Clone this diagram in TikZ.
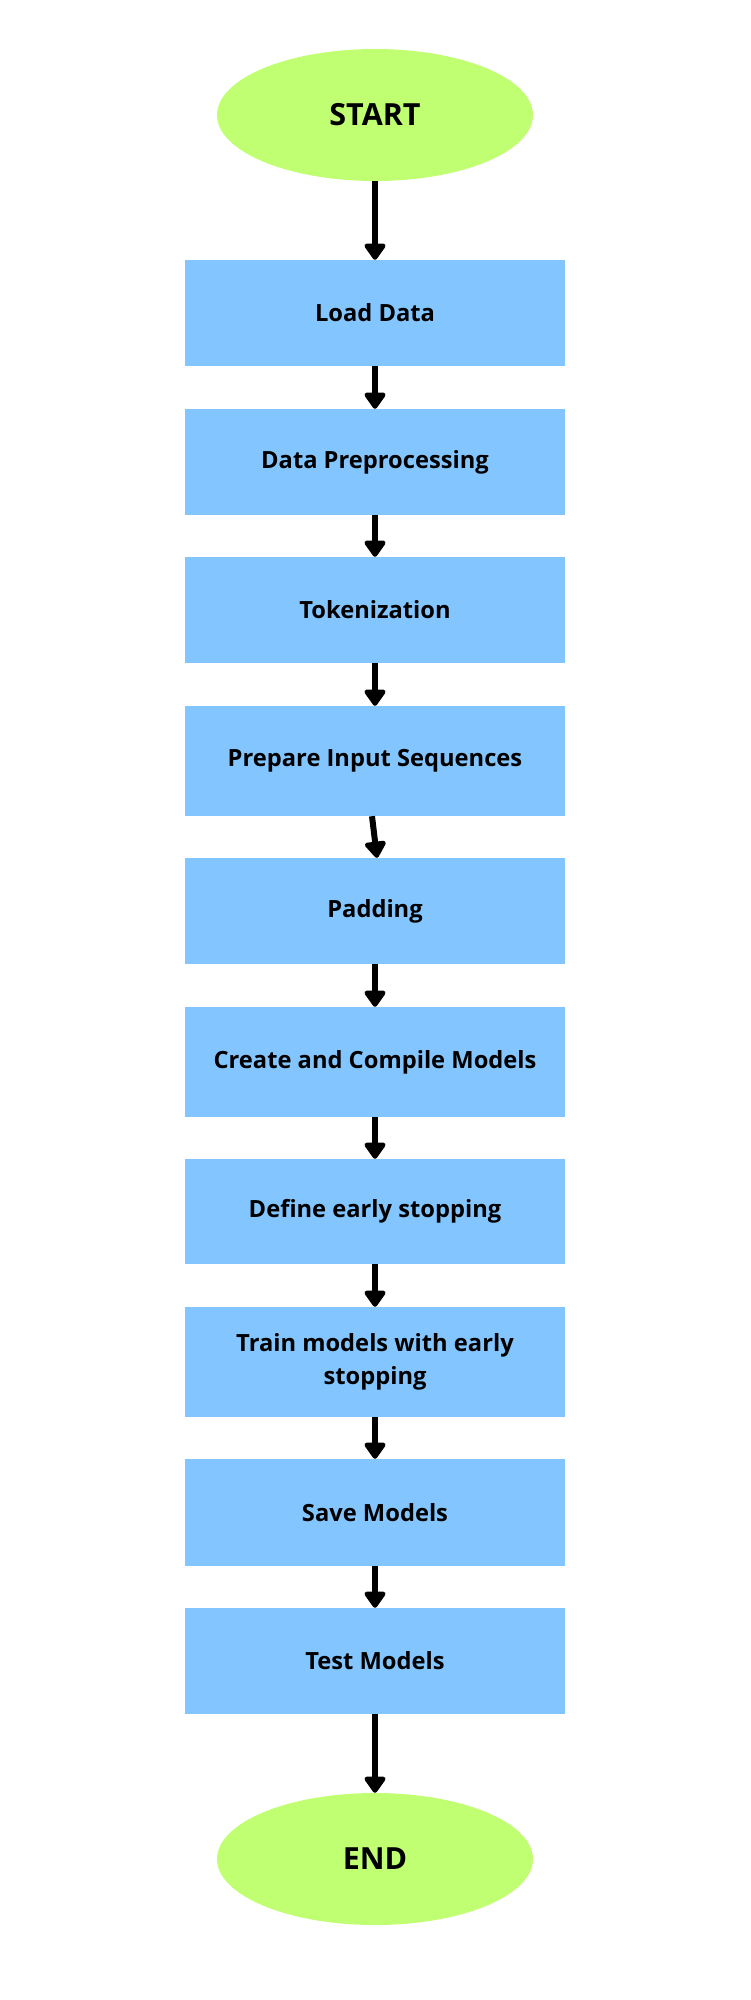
\documentclass[tikz,border=0pt]{standalone}
\usepackage{fontspec}
\setmainfont{Open Sans}
\usetikzlibrary{arrows.meta,shapes.geometric}
\definecolor{termgreen}{HTML}{C1FF72}
\definecolor{boxblue}{HTML}{83C6FF}
\tikzset{
  stepbox/.style={rectangle, fill=boxblue, minimum width=380pt, inner sep=0pt, align=center,
    font=\fontsize{23.7}{33}\selectfont\bfseries},
  term/.style={ellipse, fill=termgreen, minimum width=316pt, minimum height=132pt, inner sep=0pt,
    font=\fontsize{30.5}{34}\selectfont\bfseries},
  flow/.style={line width=6pt, -{Triangle[width=24pt,length=18pt,round]}}
}
\begin{document}
\begin{tikzpicture}[x=1pt,y=-1pt]
\useasboundingbox[fill=white] (0,0) rectangle (750,2000);
\node[term] (start) at (375,115) {START};
\node[stepbox, minimum height=106pt] (b1) at (375,313) {Load Data};
\node[stepbox, minimum height=106pt] (b2) at (375,462) {Data Preprocessing};
\node[stepbox, minimum height=106pt] (b3) at (375,610) {Tokenization};
\node[stepbox, minimum height=110pt] (b4) at (375,761) {Prepare Input Sequences};
\node[stepbox, minimum height=106pt] (b5) at (375,911) {Padding};
\node[stepbox, minimum height=110pt] (b6) at (375,1062) {Create and Compile Models};
\node[stepbox, minimum height=105pt] (b7) at (375,1211.5) {Define early stopping};
\node[stepbox, minimum height=110pt] (b8) at (375,1362) {Train models with early\\stopping};
\node[stepbox, minimum height=107pt] (b9) at (375,1512.5) {Save Models};
\node[stepbox, minimum height=106pt] (b10) at (375,1661) {Test Models};
\node[term] (end) at (375,1859) {END};
\draw[flow] (start.south) -- (b1.north);
\draw[flow] (b1.south) -- (b2.north);
\draw[flow] (b2.south) -- (b3.north);
\draw[flow] (b3.south) -- (b4.north);
\draw[flow] ([xshift=-3pt]b4.south) -- ([xshift=2pt]b5.north);
\draw[flow] (b5.south) -- (b6.north);
\draw[flow] (b6.south) -- (b7.north);
\draw[flow] (b7.south) -- (b8.north);
\draw[flow] (b8.south) -- (b9.north);
\draw[flow] (b9.south) -- (b10.north);
\draw[flow] (b10.south) -- (end.north);
\end{tikzpicture}
\end{document}
